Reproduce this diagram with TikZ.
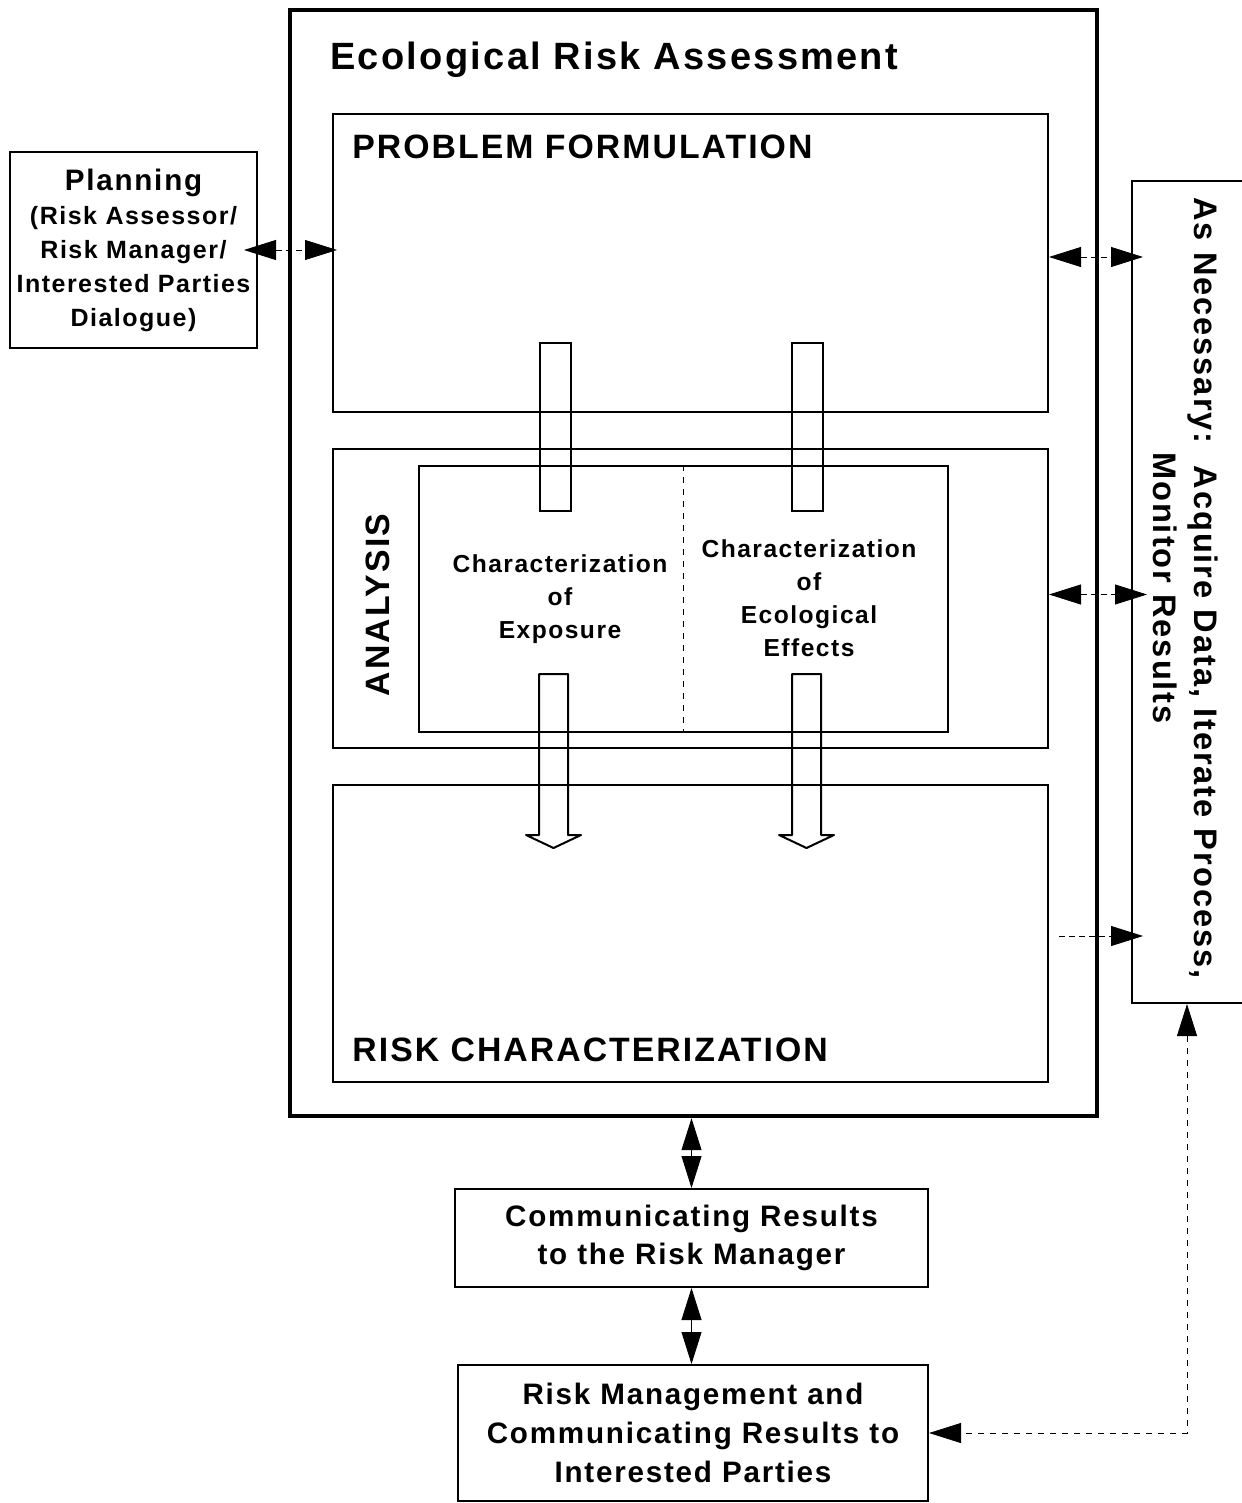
\documentclass[tikz,border=0pt]{standalone}
\usepackage{fontspec}
\setmainfont{Liberation Sans}[LetterSpace=6]
\usetikzlibrary{arrows.meta}
\def\harrow{-- ++(29,0) -- ++(0,161) -- ++(13,0) -- ++(-27.5,13) -- ++(-27.5,-13) -- ++(13,0) -- cycle}
\def\stub{rectangle ++(31,168)}
\def\fs#1#2{\fontsize{#1}{#2}\selectfont}

\begin{document}
\begin{tikzpicture}[x=0.5pt,y=-0.5pt,
    box/.style={draw,line width=1pt,inner sep=0pt},
    lbl/.style={inner sep=0pt,font=\bfseries\fs{16.9}{19}},
    txt/.style={inner sep=0pt,align=center,font=\bfseries\fs{12.3}{16.5}},
    link/.style={thin,densely dashed,{Triangle[length=16pt,width=10pt]}-{Triangle[length=16pt,width=10pt]}},
    tip/.style={thin,densely dashed,-{Triangle[length=16pt,width=10pt]}}]
    \useasboundingbox (0,0) rectangle (1241,1503);
    % boxes
    \node[box,line width=2.2pt,minimum width=403.5pt,minimum height=553pt] (era) at (693.5,563) {};
    \node[box,minimum width=357.5pt,minimum height=149pt] (pf) at (690.5,263) {};
    \node[box,minimum width=357.5pt,minimum height=149.5pt] (an) at (690.5,598.5) {};
    \node[box,minimum width=264.5pt,minimum height=133pt] (inner) at (683.5,599) {};
    \node[box,minimum width=357.5pt,minimum height=148.5pt] (rc) at (690.5,933.5) {};
    \node[box,minimum width=123.5pt,minimum height=98pt,align=center,
        font=\bfseries\fs{12.5}{17}] (plan) at (133.5,250)
        {{\fs{14.8}{17}Planning}\\(Risk Assessor/\\Risk Manager/\\Interested Parties\\Dialogue)};
    \node[box,minimum width=59pt,minimum height=411pt] (nec) at (1191,592) {};
    \node[box,minimum width=236.5pt,minimum height=49pt,align=center,
        font=\bfseries\fs{14.8}{19}] (comm) at (691.5,1238)
        {Communicating Results\\to the Risk Manager};
    \node[box,minimum width=235pt,minimum height=68pt,align=center,
        font=\bfseries\fs{14.8}{19.5}] (mgmt) at (693,1433)
        {Risk Management and\\Communicating Results to\\Interested Parties};
    \draw[dashed] (inner.north) -- (inner.south);
    % labels
    \node[lbl,anchor=base west,font=\bfseries\fs{19}{22}] (ttl) at (330,70) {Ecological Risk Assessment};
    \node[lbl,anchor=base west] (pfl) at (352,159) {PROBLEM FORMULATION};
    \node[lbl,anchor=base west] (rcl) at (352,1061) {RISK CHARACTERIZATION};
    \node[lbl,rotate=90] (anl) at (378,605) {ANALYSIS};
    \node[txt] (expo) at (560,599) {Characterization\\of\\Exposure};
    \node[txt] (effc) at (809,598) {Characterization\\of\\Ecological\\Effects};
    \node[lbl,rotate=-90,align=center,font=\bfseries\fs{16.3}{20.5}] (necl) at (1186,588)
        {As Necessary:\ \ Acquire Data, Iterate Process,\\Monitor Results};
    % hollow arrows
    \draw[line width=1pt] (540,343) \stub;
    \draw[line width=1pt] (792,343) \stub;
    \draw[line width=1pt,line join=round] (539,674) \harrow;
    \draw[line width=1pt,line join=round] (792,674) \harrow;
    % connectors
    \draw[link,shorten <=-7pt,shorten >=-2.5pt] (plan.east) -- (plan.east -| pf.west);
    \draw[link,shorten >=-6pt] ([yshift=3pt]pf.east) -- ([yshift=3pt]pf.east -| nec.west);
    \draw[link,shorten >=-8pt] ([yshift=2pt]an.east) -- ([yshift=2pt]an.east -| nec.west);
    \draw[tip,shorten <=5pt,shorten >=-6pt] ([yshift=-1.25pt]rc.east) -- ([yshift=-1.25pt]rc.east -| nec.west);
    \draw[link,solid] (comm.north |- era.south) -- (comm.north);
    \draw[link,solid] (comm.south) -- (comm.south |- mgmt.north);
    \draw[link,dashed] ([xshift=-2pt]nec.south) |- (mgmt.east);
\end{tikzpicture}
\end{document}
